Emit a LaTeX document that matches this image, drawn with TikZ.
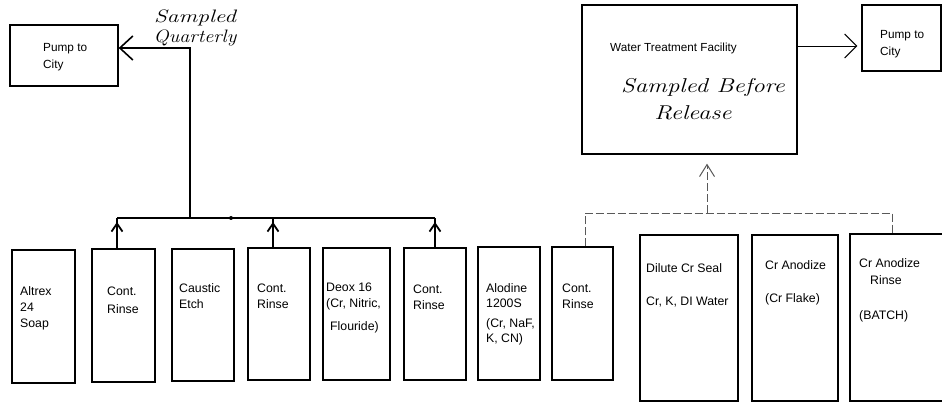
\documentclass[tikz,border=0pt]{standalone}
\usepackage{fontspec}
\newfontfamily\arial{Liberation Sans}
\usetikzlibrary{arrows.meta,calc}
\tikzset{
  box/.style={draw=black, line width=1.3pt, rectangle, inner sep=0pt},
  txt/.style={font=\arial\fontsize{12.3}{16}\selectfont, anchor=north west, inner sep=0pt, align=left},
  ptxt/.style={font=\arial\fontsize{11.8}{16.5}\selectfont, anchor=north west, inner sep=0pt, align=left},
  hand/.style={font=\rmfamily\itshape\fontsize{18}{20}\selectfont, inner sep=0pt},
  bigh/.style={font=\rmfamily\itshape\fontsize{20}{22}\selectfont, inner sep=0pt},
  bus/.style={line width=1.6pt, black},
  upflow/.style={line width=1.6pt, -{Straight Barb[length=8pt,width=11pt,line width=1.8pt]}},
  faint/.style={line width=0.7pt, gray!70!black, dash pattern=on 8pt off 3pt},
}
\begin{document}
\begin{tikzpicture}[x=1pt,y=-1pt]
\useasboundingbox (0,0) rectangle (942,403);
% top boxes
\node[box, minimum width=108pt, minimum height=61pt] (p1) at (64,55.5) {};
\node[box, minimum width=215pt, minimum height=149pt] (wtf) at (689.5,79.5) {};
\node[box, minimum width=79pt, minimum height=66pt] (p2) at (901.5,38) {};
% bottom boxes
\node[box, minimum width=63pt, minimum height=133pt] (c1) at (43.5,316.5) {};
\node[box, minimum width=63pt, minimum height=133pt] (c2) at (123.5,315.5) {};
\node[box, minimum width=62pt, minimum height=132pt] (c3) at (203,315) {};
\node[box, minimum width=62pt, minimum height=132pt] (c4) at (279,314) {};
\node[box, minimum width=67pt, minimum height=132pt] (c5) at (356.5,314) {};
\node[box, minimum width=62pt, minimum height=132pt] (c6) at (435,314) {};
\node[box, minimum width=62pt, minimum height=133pt] (c7) at (509,313.5) {};
\node[box, minimum width=61pt, minimum height=133pt] (c8) at (582.5,313.5) {};
\node[box, minimum width=98pt, minimum height=166pt] (c9) at (689,318) {};
\node[box, minimum width=86pt, minimum height=166pt] (c10) at (795,318) {};
\node[box, minimum width=100pt, minimum height=167pt] (c11) at (900,317.5) {};
% texts
\node[ptxt] (tp1) at (43,43.5) {Pump to\\City};
\node[ptxt] (tp2) at (880,30.5) {Pump to\\City};
\node[ptxt, font=\arial\fontsize{11.7}{14}\selectfont] (twtf) at (610,42.5) {Water Treatment Facility};
\node[txt] (t1) at (20,286.5) {Altrex\\24\\Soap};
\node[txt] (t2) at (107,286.5) {Cont.\\[2pt]Rinse};
\node[txt] (t3) at (179,283.5) {Caustic\\Etch};
\node[txt] (t4) at (257,283.5) {Cont.\\Rinse};
\node[txt] (t5) at (326,282.5) {Deox 16\\(Cr, Nitric,\\[7pt]\hspace*{4pt}Flouride)};
\node[txt] (t6) at (413,284.5) {Cont.\\Rinse};
\node[txt] (t7) at (486,283.5) {Alodine\\[-1pt]1200S\\[4pt](Cr, NaF,\\[-1pt]K, CN)};
\node[txt] (t8) at (562,283.5) {Cont.\\Rinse};
\node[txt] (t9) at (646,263.5) {Dilute Cr Seal\\[17pt]Cr, K, DI Water};
\node[txt] (t10) at (765,260.5) {Cr Anodize\\[17pt](Cr Flake)};
\node[txt] (t11) at (859,258.5) {Cr Anodize\\[1pt]\hspace*{11pt}Rinse\\[19pt](BATCH)};
% handwriting
\node[hand] (h1) at (195,18) {\scalebox{1.3}[1]{Sampled}};
\node[hand] (h2) at (195,38) {\scalebox{1.12}[1]{Quarterly}};
\node[bigh] (h3) at (703,88) {\scalebox{1.24}[1]{Sampled Before}};
\node[bigh] (h4) at (693,113) {\scalebox{1.24}[1]{Release}};
% left collection bus
\coordinate (b1) at (117,218);
\coordinate (b0) at (190,218);
\coordinate (b2) at (273,218);
\coordinate (b3) at (435,218);
\coordinate (q) at (190,48);
\draw[bus] (b1) -- (b3);
\fill (231,218) circle (2pt);
\draw[bus, -{Straight Barb[length=13pt,width=24pt,line width=1.6pt]}] (b0) -- (q) -- (q -| p1.east);
\foreach \c/\b in {c2/b1, c4/b2, c6/b3}{
  \draw[bus] (\c.north -| \b) -- (\b);
  \draw[upflow] (\c.north -| \b) -- ($(\b)+(0,4)$);
}
% right collection (faint)
\coordinate (d1) at (585,213);
\coordinate (wj) at (707,213);
\coordinate (d2) at (892,213);
\draw[faint] (c8.north -| d1) -- (d1) -- (d2) -- (d2 |- c11.north);
\draw[faint, shorten >=9pt, -{Straight Barb[length=12pt,width=15pt,line width=1pt]}] (wj) -- (wtf.south -| wj);
% WTF to pump
\draw[line width=0.8pt, shorten >=4pt, -{Straight Barb[length=12pt,width=24pt,line width=1pt]}] (wtf.east |- 0,46) -- (p2.west |- 0,46);
\end{tikzpicture}
\end{document}
